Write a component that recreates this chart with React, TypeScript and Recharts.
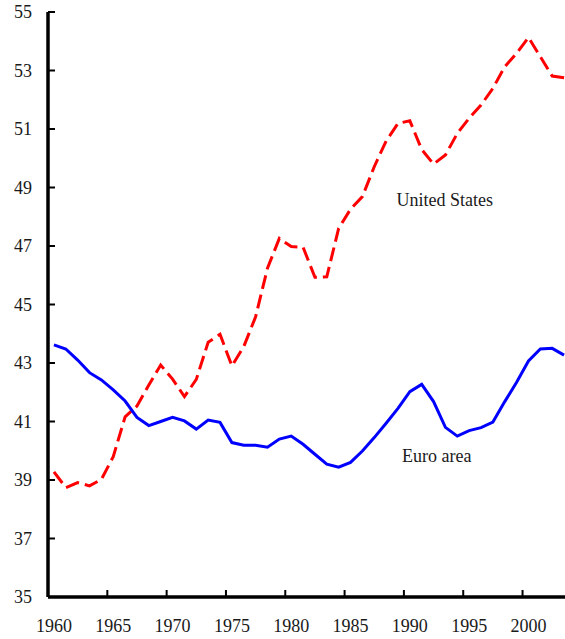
import { LineChart, Line, XAxis, YAxis, ReferenceDot } from "recharts";

const YEARS = [
  1960, 1961, 1962, 1963, 1964, 1965, 1966, 1967, 1968, 1969,
  1970, 1971, 1972, 1973, 1974, 1975, 1976, 1977, 1978, 1979,
  1980, 1981, 1982, 1983, 1984, 1985, 1986, 1987, 1988, 1989,
  1990, 1991, 1992, 1993, 1994, 1995, 1996, 1997, 1998, 1999,
  2000, 2001, 2002, 2003,
];

const UNITED_STATES = [
  39.28, 38.74, 38.91, 38.8, 39.02, 39.8, 41.16, 41.53, 42.25, 42.93,
  42.45, 41.85, 42.44, 43.71, 43.98, 42.9, 43.56, 44.58, 46.24, 47.26,
  46.98, 46.96, 45.93, 45.95, 47.6, 48.26, 48.69, 49.71, 50.59, 51.19,
  51.28, 50.3, 49.8, 50.11, 50.85, 51.37, 51.82, 52.39, 53.13, 53.59,
  54.13, 53.47, 52.81, 52.75,
];

const EURO_AREA = [
  43.62, 43.48, 43.1, 42.67, 42.42, 42.08, 41.7, 41.14, 40.86, 41.0,
  41.14, 41.02, 40.74, 41.05, 40.97, 40.28, 40.19, 40.19, 40.12, 40.4,
  40.5, 40.22, 39.88, 39.54, 39.44, 39.6, 39.99, 40.45, 40.94, 41.45,
  42.02, 42.27, 41.68, 40.8, 40.5, 40.69, 40.79, 40.98, 41.68, 42.34,
  43.07, 43.48, 43.5, 43.27,
];

const X_TICKS = [1960, 1965, 1970, 1975, 1980, 1985, 1990, 1995, 2000];
const Y_TICKS = [35, 37, 39, 41, 43, 45, 47, 49, 51, 53, 55];

// layout
const W = 572;
const H = 639;
const LEFT = 48;
const TOP = 12;
const RIGHT = 2;
const XAXIS_H = 42;
const PLOT_W = W - LEFT - RIGHT;
const BAND = PLOT_W / YEARS.length;
const AXIS_Y = H - XAXIS_H;
const FONT = '"Liberation Serif", "Times New Roman", Times, serif';
const INK = "#1a1a1a";

const data = YEARS.map((year, i) => ({
  year,
  us: UNITED_STATES[i],
  euro: EURO_AREA[i],
}));

// y ticks point into the plot, labels sit left of the axis
function YTick({ y, payload }: any) {
  return (
    <g>
      <line x1={LEFT} x2={LEFT + 7} y1={y} y2={y} stroke="#000" strokeWidth={2} />
      <text
        x={LEFT - 16}
        y={y}
        textAnchor="end"
        dominantBaseline="central"
        fontSize={18}
        fontFamily={FONT}
        fill={INK}
      >
        {payload.value}
      </text>
    </g>
  );
}

// x ticks sit between year categories, labels centred on the year
function XTick({ x, payload }: any) {
  const tx = x - BAND / 2;
  return (
    <g>
      <line x1={tx} x2={tx} y1={AXIS_Y} y2={AXIS_Y - 7} stroke="#000" strokeWidth={2} />
      <text
        x={x}
        y={AXIS_Y + 35}
        textAnchor="middle"
        fontSize={18}
        fontFamily={FONT}
        fill={INK}
      >
        {payload.value}
      </text>
    </g>
  );
}

export default function App() {
  return (
    <div style={{ width: 565, height: 639, overflow: "hidden", background: "#fff" }}>
      <style>{"body{margin:0}"}</style>
      <LineChart
        width={W}
        height={H}
        data={data}
        margin={{ top: TOP, right: RIGHT, bottom: 0, left: 0 }}
      >
        <XAxis
          dataKey="year"
          type="number"
          domain={[YEARS[0] - 0.5, YEARS[YEARS.length - 1] + 0.5]}
          ticks={X_TICKS}
          tick={<XTick />}
          tickLine={false}
          height={XAXIS_H}
          axisLine={{ stroke: "#000", strokeWidth: 3.5 }}
        />
        <XAxis
          xAxisId="top"
          orientation="top"
          dataKey="year"
          type="number"
          domain={[YEARS[0] - 0.5, YEARS[YEARS.length - 1] + 0.5]}
          tick={false}
          tickLine={false}
          height={0}
          axisLine={{ stroke: "#000", strokeWidth: 2 }}
        />
        <YAxis
          type="number"
          domain={[35, 55]}
          ticks={Y_TICKS}
          tick={<YTick />}
          tickLine={false}
          width={LEFT}
          axisLine={{ stroke: "#000", strokeWidth: 3.5 }}
        />
        <Line
          type="linear"
          dataKey="us"
          stroke="#ff0000"
          strokeWidth={3}
          strokeDasharray="14 6"
          dot={false}
          isAnimationActive={false}
        />
        <Line
          type="linear"
          dataKey="euro"
          stroke="#0000ff"
          strokeWidth={3}
          dot={false}
          isAnimationActive={false}
        />
        <ReferenceDot
          x={1992.95}
          y={48.57}
          r={0}
          fill="none"
          stroke="none"
          label={{ value: "United States", position: "center", fontSize: 18, fontFamily: FONT, fill: INK }}
        />
        <ReferenceDot
          x={1992.27}
          y={39.84}
          r={0}
          fill="none"
          stroke="none"
          label={{ value: "Euro area", position: "center", fontSize: 18, fontFamily: FONT, fill: INK }}
        />
      </LineChart>
    </div>
  );
}
